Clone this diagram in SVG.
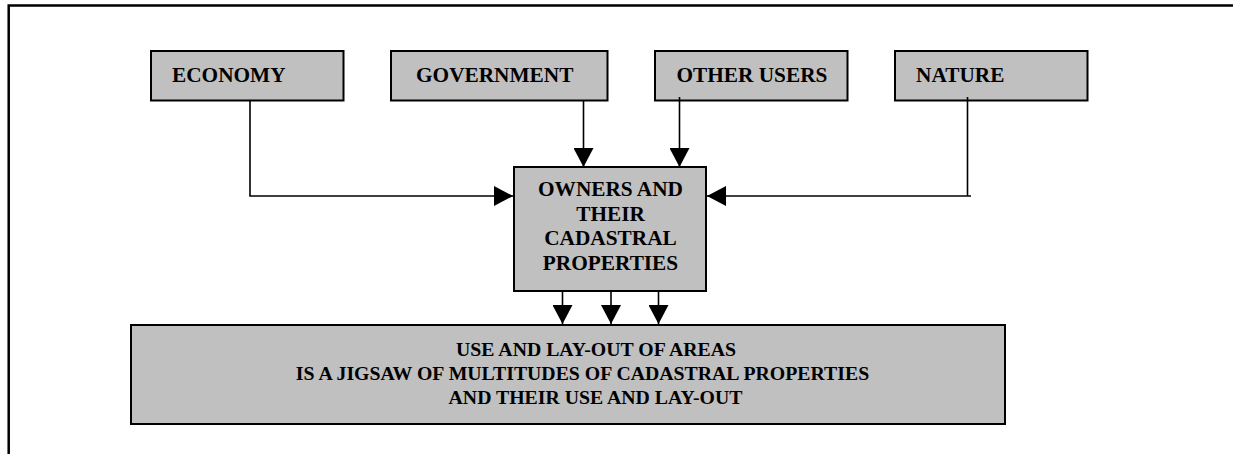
<svg xmlns="http://www.w3.org/2000/svg" width="1233" height="454" viewBox="0 0 1233 454">
  <style>
    .box { fill: #c0c0c0; stroke: #000; stroke-width: 2; }
    .lbl { font-family: "Liberation Serif", "Times New Roman", serif; font-weight: bold; font-size: 21.3px; fill: #000; }
    .small { font-size: 19.8px; }
    .mid { text-anchor: middle; }
    .conn { fill: none; stroke: #000; stroke-width: 1.6; }
    .frame { fill: none; stroke: #000; stroke-width: 2.5; }
  </style>
  <defs>
    <marker id="arrow" markerUnits="userSpaceOnUse" markerWidth="20" markerHeight="20" refX="19" refY="10" orient="auto">
      <path d="M0,0 L19,10 L0,20 Z" fill="#000"/>
    </marker>
  </defs>
  <rect width="1233" height="454" fill="#fff"/>
  <g id="frame">
    <path class="frame" d="M8.7,454 L8.7,5.5 L1233,5.5"/>
  </g>
  <g id="economy">
    <rect class="box" x="151" y="51" width="192.5" height="49.5"/>
    <text class="lbl" x="172" y="81.5">ECONOMY</text>
  </g>
  <g id="government">
    <rect class="box" x="391" y="51" width="216.5" height="49.5"/>
    <text class="lbl" x="416" y="81.5">GOVERNMENT</text>
  </g>
  <g id="other-users">
    <rect class="box" x="655" y="51" width="192.5" height="49.5"/>
    <text class="lbl" x="676.5" y="81.5">OTHER USERS</text>
  </g>
  <g id="nature">
    <rect class="box" x="895" y="51" width="192.5" height="49.5"/>
    <text class="lbl" x="916" y="81.5">NATURE</text>
  </g>
  <g id="owners">
    <rect class="box" x="514" y="167" width="192" height="124"/>
    <text class="lbl mid" x="610.5" y="195.5">OWNERS AND</text>
    <text class="lbl mid" x="610.5" y="220.5">THEIR</text>
    <text class="lbl mid" x="610.5" y="244.5">CADASTRAL</text>
    <text class="lbl mid" x="610.5" y="269.5">PROPERTIES</text>
  </g>
  <g id="use-layout">
    <rect class="box" x="131" y="325" width="874" height="99"/>
    <text class="lbl small mid" x="596" y="356">USE AND LAY-OUT OF AREAS</text>
    <text class="lbl small mid" x="582.5" y="380">IS A JIGSAW OF MULTITUDES OF CADASTRAL PROPERTIES</text>
    <text class="lbl small mid" x="595.5" y="404">AND THEIR USE AND LAY-OUT</text>
  </g>
  <g id="connectors">
    <path class="conn" d="M250,101 L250,196 L513,196" marker-end="url(#arrow)"/>
    <path class="conn" d="M583.5,101 L583.5,167" marker-end="url(#arrow)"/>
    <path class="conn" d="M679.5,97 L679.5,167" marker-end="url(#arrow)"/>
    <path class="conn" d="M967.5,97 L967.5,196"/>
    <path class="conn" d="M971,196 L707,196" marker-end="url(#arrow)"/>
    <path class="conn" d="M562.5,291 L562.5,324" marker-end="url(#arrow)"/>
    <path class="conn" d="M611,291 L611,324" marker-end="url(#arrow)"/>
    <path class="conn" d="M658.5,291 L658.5,324" marker-end="url(#arrow)"/>
  </g>
</svg>
